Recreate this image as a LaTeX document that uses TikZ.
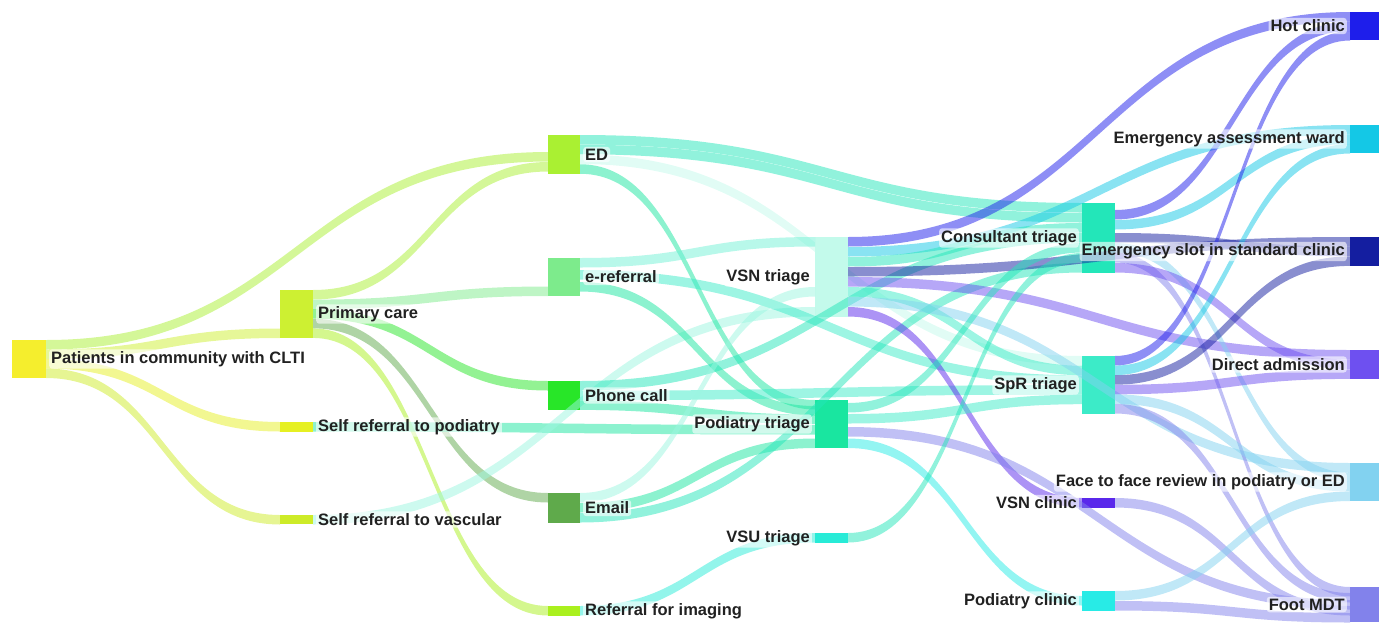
\documentclass[tikz,border=0pt]{standalone}
\usepackage{fontspec}
\setmainfont{Liberation Sans}
\usetikzlibrary{calc,positioning}
\definecolor{cpat}{RGB}{245,238,45}
\definecolor{cpc}{RGB}{205,240,50}
\definecolor{csrp}{RGB}{230,240,35}
\definecolor{csrv}{RGB}{205,235,40}
\definecolor{ced}{RGB}{170,240,50}
\definecolor{ceref}{RGB}{125,235,140}
\definecolor{cphone}{RGB}{40,230,40}
\definecolor{cemail}{RGB}{95,170,75}
\definecolor{cimg}{RGB}{170,240,30}
\definecolor{cvsnt}{RGB}{195,250,235}
\definecolor{cpodt}{RGB}{25,230,160}
\definecolor{cvsut}{RGB}{40,235,215}
\definecolor{ccons}{RGB}{35,230,185}
\definecolor{cspr}{RGB}{60,235,200}
\definecolor{cvsnc}{RGB}{90,40,235}
\definecolor{cpodc}{RGB}{40,235,230}
\definecolor{chot}{RGB}{30,30,235}
\definecolor{ceaw}{RGB}{20,200,230}
\definecolor{cessc}{RGB}{20,30,160}
\definecolor{cda}{RGB}{110,80,240}
\definecolor{cftf}{RGB}{130,210,240}
\definecolor{cfmdt}{RGB}{130,130,235}
\definecolor{ctxt}{RGB}{33,33,33}
\newcommand*{\lw}{9.5pt}
% band from #1 (offset #2 below its top) to #3 (offset #4), colour #5
\newcommand*{\band}[5]{%
    \fill[#5, fill opacity=.5] let \p1=([yshift=-#2pt]#1.north east),
        \p2=([yshift=-#4pt]#3.north west), \p3=($(\p1)!.5!(\p2)$) in
        (\x1, \y1)..controls(\x3, \y1)and(\x3, \y2)..(\x2, \y2)
        --(\x2, {\y2-\lw})..controls(\x3, {\y2-\lw})and(\x3, {\y1-\lw})..(\x1, {\y1-\lw})--cycle;}
\tikzset{
    box/.style={draw=none, inner sep=0pt, outer sep=0pt, anchor=north west},
    lbl/.style={text=ctxt, font=\fontsize{16.5}{18}\selectfont\bfseries, fill=white,
        fill opacity=.6, text opacity=1, rounded corners=3pt, inner sep=2pt}
}

\begin{document}
\begin{tikzpicture}[x=1pt, y=-1pt, node distance=3pt]
    \useasboundingbox(0, 0) rectangle (1379, 622);
    % stages
    \node[box, fill=cpat, minimum width=34pt, minimum height=38pt](pat) at (12, 340) {};
    \node[box, fill=cpc, minimum width=33pt, minimum height=48pt](pc) at (280, 290) {};
    \node[box, fill=csrp, minimum width=33pt, minimum height=10pt](srp) at (280, 422) {};
    \node[box, fill=csrv, minimum width=33pt, minimum height=9pt](srv) at (280, 515) {};
    \node[box, fill=ced, minimum width=32pt, minimum height=39pt](ed) at (548, 135) {};
    \node[box, fill=ceref, minimum width=32pt, minimum height=38pt](eref) at (548, 258) {};
    \node[box, fill=cphone, minimum width=32pt, minimum height=29pt](phone) at (548, 381) {};
    \node[box, fill=cemail, minimum width=32pt, minimum height=30pt](email) at (548, 493) {};
    \node[box, fill=cimg, minimum width=32pt, minimum height=10pt](img) at (548, 606) {};
    \node[box, fill=cvsnt, minimum width=33pt, minimum height=80pt](vsnt) at (815, 237) {};
    \node[box, fill=cpodt, minimum width=33pt, minimum height=48pt](podt) at (815, 400) {};
    \node[box, fill=cvsut, minimum width=33pt, minimum height=10pt](vsut) at (815, 533) {};
    \node[box, fill=ccons, minimum width=33pt, minimum height=70pt](cons) at (1082, 203) {};
    \node[box, fill=cspr, minimum width=33pt, minimum height=58pt](spr) at (1082, 356) {};
    \node[box, fill=cvsnc, minimum width=33pt, minimum height=10pt](vsnc) at (1082, 498) {};
    \node[box, fill=cpodc, minimum width=33pt, minimum height=20pt](podc) at (1082, 591) {};
    \node[box, fill=chot, minimum width=29pt, minimum height=28pt](hot) at (1350, 12) {};
    \node[box, fill=ceaw, minimum width=29pt, minimum height=28pt](eaw) at (1350, 125) {};
    \node[box, fill=cessc, minimum width=29pt, minimum height=29pt](essc) at (1350, 237) {};
    \node[box, fill=cda, minimum width=29pt, minimum height=29pt](da) at (1350, 350) {};
    \node[box, fill=cftf, minimum width=29pt, minimum height=38pt](ftf) at (1350, 463) {};
    \node[box, fill=cfmdt, minimum width=29pt, minimum height=35pt](fmdt) at (1350, 587) {};
    % flows
    \band{pat}{0}{ed}{17}{ced}
    \band{pat}{9.5}{pc}{38.5}{cpc}
    \band{pat}{19}{srp}{0}{csrp}
    \band{pat}{28.5}{srv}{0}{csrv}
    \band{pc}{0}{ed}{27}{ced}
    \band{pc}{9.6}{eref}{28.5}{ceref}
    \band{pc}{19.2}{phone}{0}{cphone}
    \band{pc}{28.8}{email}{0}{cemail}
    \band{pc}{38.4}{img}{0}{cimg}
    \band{srp}{0}{podt}{25}{cpodt}
    \band{srv}{0}{vsnt}{70}{cvsnt!70!cspr}
    \band{ed}{0}{cons}{0}{ccons}
    \band{ed}{9.75}{cons}{10}{ccons}
    \band{ed}{19.5}{spr}{0}{cvsnt}
    \band{ed}{29.25}{podt}{0}{cpodt}
    \band{eref}{0}{vsnt}{0}{cvsnt!40!cspr}
    \band{eref}{12}{spr}{19.4}{cspr}
    \band{eref}{24}{podt}{6}{cpodt}
    \band{phone}{0}{cons}{30}{ccons}
    \band{phone}{9.7}{spr}{29}{cspr}
    \band{phone}{19.4}{podt}{14.5}{cpodt}
    \band{email}{0}{vsnt}{50}{cvsnt!70!cspr}
    \band{email}{10}{podt}{38.5}{cpodt}
    \band{email}{20}{cons}{60}{ccons}
    \band{img}{0}{vsut}{0}{cvsut}
    \band{vsnt}{0}{hot}{0}{chot}
    \band{vsnt}{10}{eaw}{0}{ceaw}
    \band{vsnt}{20}{cons}{20}{ccons}
    \band{vsnt}{30}{essc}{0}{cessc}
    \band{vsnt}{40}{da}{0}{cda}
    \band{vsnt}{50}{spr}{9.7}{cspr}
    \band{vsnt}{60}{ftf}{0}{cftf}
    \band{vsnt}{70}{vsnc}{0}{cvsnc}
    \band{podt}{3}{cons}{40}{ccons}
    \band{podt}{14}{spr}{38.7}{cspr}
    \band{podt}{27}{fmdt}{13}{cfmdt}
    \band{podt}{38.5}{podc}{5}{cpodc}
    \band{vsut}{0}{cons}{50}{ccons}
    \band{cons}{7}{hot}{9.5}{chot}
    \band{cons}{17}{eaw}{9.5}{ceaw}
    \band{cons}{30}{essc}{9.7}{cessc}
    \band{cons}{40}{ftf}{9.5}{cftf}
    \band{cons}{50}{fmdt}{0}{cfmdt}
    \band{cons}{60}{da}{9.7}{cda}
    \band{spr}{0}{hot}{19}{chot}
    \band{spr}{9.6}{eaw}{19}{ceaw}
    \band{spr}{19.2}{essc}{19.4}{cessc}
    \band{spr}{28.8}{da}{19.4}{cda}
    \band{spr}{38.4}{ftf}{19}{cftf}
    \band{spr}{48}{fmdt}{6}{cfmdt}
    \band{vsnc}{0}{fmdt}{19}{cfmdt}
    \band{podc}{0}{ftf}{28.5}{cftf}
    \band{podc}{10}{fmdt}{26}{cfmdt}
    % labels
    \node[lbl, right=of pat]{Patients in community with CLTI};
    \node[lbl, right=of pc]{Primary care};
    \node[lbl, right=of srp]{Self referral to podiatry};
    \node[lbl, right=of srv]{Self referral to vascular};
    \node[lbl, right=of ed]{ED};
    \node[lbl, right=of eref]{e-referral};
    \node[lbl, right=of phone]{Phone call};
    \node[lbl, right=of email]{Email};
    \node[lbl, right=of img]{Referral for imaging};
    \node[lbl, left=of vsnt]{VSN triage};
    \node[lbl, left=of podt]{Podiatry triage};
    \node[lbl, left=of vsut]{VSU triage};
    \node[lbl, left=of cons]{Consultant triage};
    \node[lbl, left=of spr]{SpR triage};
    \node[lbl, left=of vsnc]{VSN clinic};
    \node[lbl, left=of podc]{Podiatry clinic};
    \node[lbl, left=of hot]{Hot clinic};
    \node[lbl, left=of eaw]{Emergency assessment ward};
    \node[lbl, left=of essc]{Emergency slot in standard clinic};
    \node[lbl, left=of da]{Direct admission};
    \node[lbl, left=of ftf]{Face to face review in podiatry or ED};
    \node[lbl, left=of fmdt]{Foot MDT};
\end{tikzpicture}
\end{document}
